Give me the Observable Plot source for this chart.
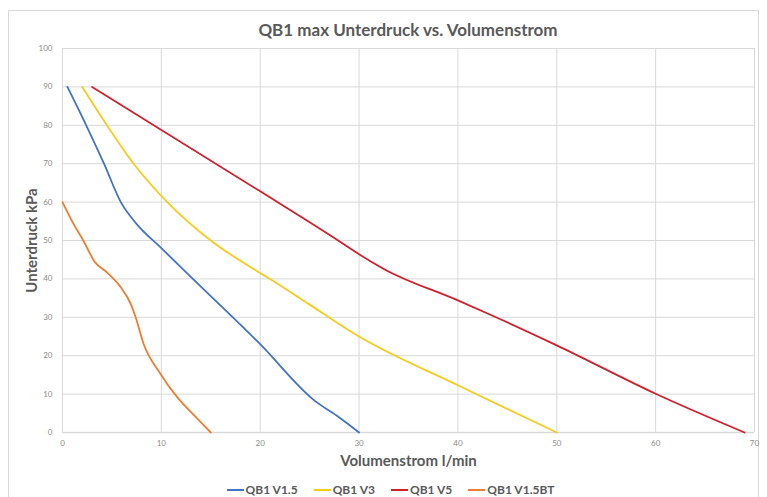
<!DOCTYPE html>
<html>
<head>
<meta charset="utf-8">
<script src="https://cdn.jsdelivr.net/npm/d3@7"></script>
<script src="https://cdn.jsdelivr.net/npm/@observablehq/plot@0.6"></script>
<style>
  html, body { margin: 0; padding: 0; background: #fff; }
  body { width: 767px; height: 497px; position: relative; overflow: hidden; font-family: Lato, "Open Sans", sans-serif; }
  #frame { position: absolute; left: 8px; top: 10px; width: 751px; height: 490px; border: 1px solid #d9d9d9; box-sizing: border-box; }
  #title { position: absolute; left: 62px; width: 692px; top: 19px; text-align: center; font-size: 17px; font-weight: bold; color: #595959; }
  #chart { position: absolute; left: 0; top: 0; }
  #legend { position: absolute; left: 0; width: 781px; top: 482px; display: flex; justify-content: center; gap: 16px; font-size: 12px; font-weight: bold; color: #595959; }
  .item { display: flex; align-items: center; }
  .sw { display: inline-block; width: 17px; height: 2px; margin-right: 2px; }
</style>
</head>
<body>
<div id="frame"></div>
<div id="title">QB1 max Unterdruck vs. Volumenstrom</div>
<div id="chart"></div>
<div id="legend"></div>
<script>
const seriesNames = ["QB1 V1.5", "QB1 V3", "QB1 V5", "QB1 V1.5BT"];
const seriesColors = ["#4472C4", "#F5CC1C", "#D0202E", "#ED7D31"];

const v15_x = [0.5, 2.4, 4.2, 5.9, 7.4, 10, 14, 20, 25.4, 28, 30];
const v15_y = [90, 80, 70, 60, 54.6, 48, 38, 23, 8.5, 3.9, 0];

const v3_x = [2, 4.5, 7.2, 10.6, 15, 19.7, 21, 25, 30, 40, 50];
const v3_y = [90, 80, 70, 60, 50, 42, 40, 33.3, 25, 12.3, 0];

const v5_x = [3, 20, 28, 30, 32.5, 40, 43, 50, 60, 69];
const v5_y = [90, 62.8, 49.8, 46.4, 42.6, 34.4, 31, 22.7, 10.1, 0];

const v15bt_x = [0, 1.1, 2.1, 3.3, 4.5, 5.9, 6.9, 7.4, 8.2, 9.9, 11.6, 13.3, 15];
const v15bt_y = [60, 54.4, 50, 44.3, 41.7, 37.8, 33.5, 30, 23.1, 15.3, 9.2, 4.5, 0];

const xTicks = [0, 10, 20, 30, 40, 50, 60, 70];
const yTicks = [0, 10, 20, 30, 40, 50, 60, 70, 80, 90, 100];

const allX = [v15_x, v3_x, v5_x, v15bt_x];
const allY = [v15_y, v3_y, v5_y, v15bt_y];
const data = [];
seriesNames.forEach((name, i) => {
  allX[i].forEach((x, j) => data.push({series: name, x, y: allY[i][j]}));
});

const plot = Plot.plot({
  width: 767,
  height: 470,
  marginLeft: 62,
  marginRight: 13,
  marginTop: 48,
  marginBottom: 38,
  style: {fontFamily: "Lato, 'Open Sans', sans-serif", background: "transparent"},
  x: {domain: [0, 70], ticks: xTicks},
  y: {domain: [0, 100], ticks: yTicks},
  color: {domain: seriesNames, range: seriesColors},
  marks: [
    Plot.gridX(xTicks, {stroke: "#d9d9d9", strokeOpacity: 1}),
    Plot.gridY(yTicks, {stroke: "#d9d9d9", strokeOpacity: 1}),
    Plot.ruleY([0], {stroke: "#d9d9d9", strokeWidth: 1.5}),
    Plot.axisX({ticks: xTicks, tickSize: 0, tickPadding: 8, fontSize: 8, fill: "#8c8c8c", label: null}),
    Plot.axisY({ticks: yTicks, tickSize: 0, tickPadding: 10, fontSize: 8, fill: "#8c8c8c", label: null}),
    Plot.axisX({ticks: [], tickSize: 0, label: "Volumenstrom l/min", labelAnchor: "center", labelArrow: "none", labelOffset: 33, fontSize: 15, fontWeight: "bold", fill: "#595959", fillOpacity: 1}),
    Plot.axisY({ticks: [], tickSize: 0, label: "Unterdruck kPa", labelAnchor: "center", labelArrow: "none", labelOffset: 36, fontSize: 15, fontWeight: "bold", fill: "#595959", fillOpacity: 1}),
    Plot.line(data, {x: "x", y: "y", z: "series", stroke: "series", strokeWidth: 1.8, curve: "monotone-x"})
  ]
});
document.getElementById("chart").appendChild(plot);

const legend = document.getElementById("legend");
seriesNames.forEach((n, i) => {
  const it = document.createElement("span");
  it.className = "item";
  const sw = document.createElement("span");
  sw.className = "sw";
  sw.style.background = seriesColors[i];
  it.appendChild(sw);
  it.appendChild(document.createTextNode(n));
  legend.appendChild(it);
});
</script>
</body>
</html>
